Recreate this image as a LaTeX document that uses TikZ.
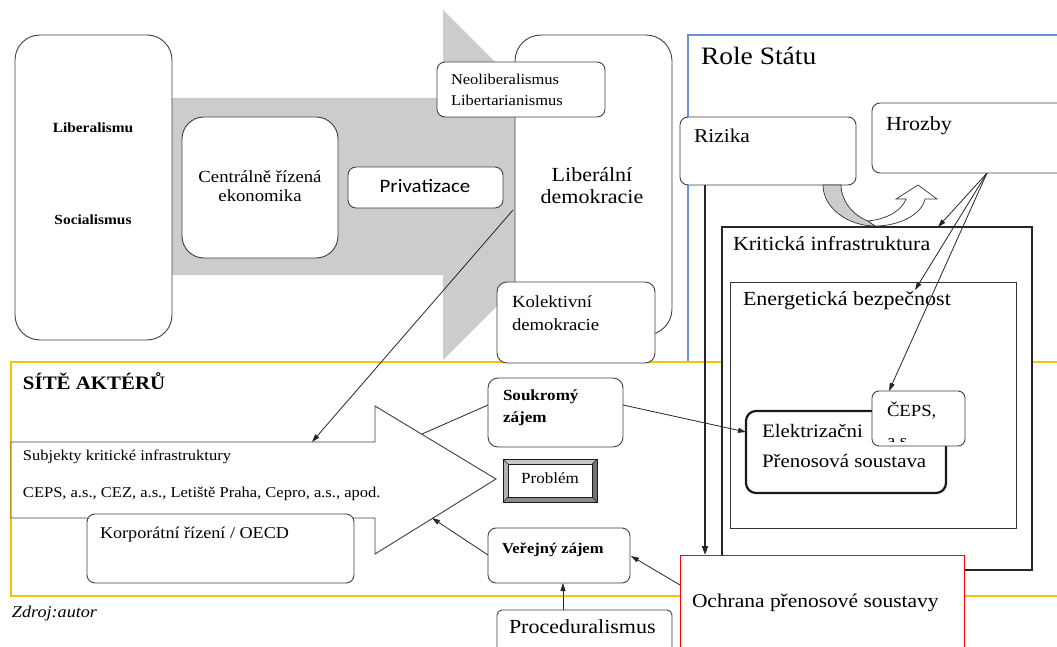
\documentclass[tikz,border=0pt]{standalone}
\usepackage{fontspec}
\setmainfont{Liberation Serif}[FakeStretch=1.1]
\newfontfamily\calfont{Carlito}[FakeStretch=1.1]
\usetikzlibrary{calc,arrows.meta}
\newcommand\fsz[1]{\fontsize{#1}{#1}\selectfont}
\definecolor{boxline}{HTML}{404040}
\definecolor{bluebox}{HTML}{6A93D0}
\definecolor{yellowbox}{HTML}{FFC000}
\definecolor{greyfill}{HTML}{CCCCCC}
\begin{document}
\begin{tikzpicture}[x=1pt,y=-1pt,
  box/.style={draw=boxline, line width=0.9pt, fill=white, rounded corners=8pt, inner sep=0pt, outer sep=0pt, anchor=north west},
  sqbox/.style={inner sep=0pt, outer sep=0pt, anchor=north west},
  lbl/.style={anchor=base west, inner sep=0pt, outer sep=0pt},
  clbl/.style={anchor=base, inner sep=0pt, outer sep=0pt},
  con/.style={draw=black!85, line width=0.8pt},
  arr/.style={con, -{Triangle[length=8pt,width=5pt]}}]
\clip (0,0) rectangle (1057,647);
\fill[white] (0,0) rectangle (1057,647);

% big grey arrow
\fill[greyfill] (160,98) -- (443,98) -- (443,10) -- (618,185) -- (443,360) -- (443,275) -- (160,275) -- cycle;

% left group
\node[box, rounded corners=25pt, minimum width=157pt, minimum height=305pt] (lib) at (15,35) {};
\node[clbl, font=\bfseries\fsz{14}] (tlib) at (93,133) {Liberalismu};
\node[clbl, font=\bfseries\fsz{14}] (tsoc) at (93,225) {Socialismus};

\node[box, rounded corners=22pt, minimum width=156pt, minimum height=141pt] (cent) at (182,117) {};
\node[clbl, font=\fsz{17}] (tcent1) at (260,183) {Centrálně řízená};
\node[clbl, font=\fsz{17}] (tcent2) at (260,201) {ekonomika};

\node[box, minimum width=155pt, minimum height=41pt] (priv) at (348,167) {};
\node[clbl, font=\calfont\fsz{19}] (tpriv) at (425,193) {Privatizace};

\node[box, rounded corners=26pt, minimum width=157pt, minimum height=300pt] (lde) at (515,35) {};
\node[clbl, font=\fsz{20}] (tlde1) at (592,182) {Liberální};
\node[clbl, font=\fsz{20}] (tlde2) at (592,204) {demokracie};

% Role statu
\node[sqbox, draw=bluebox, line width=1.3pt, fill=white, minimum width=420pt, minimum height=327pt] (role) at (688,35) {};
\node[lbl, font=\fsz{25}] (trole) at (701,65) {Role Státu};

% Site akteru
\node[sqbox, draw=yellowbox, line width=1.2pt, fill=white, minimum width=1100pt, minimum height=234pt] (site) at (11,362) {};
\node[lbl, font=\bfseries\fsz{19}] (tsite) at (23,389) {SÍTĚ AKTÉRŮ};

\node[box, rounded corners=10pt, minimum width=158pt, minimum height=81pt] (kol) at (497,282) {};
\node[lbl, font=\fsz{17}] (tkol1) at (512,307) {Kolektivní};
\node[lbl, font=\fsz{17}] (tkol2) at (512,330) {demokracie};

\node[box, minimum width=168pt, minimum height=55pt] (neo) at (437,62) {};
\node[lbl, font=\fsz{15}] (tneo1) at (451,85) {Neoliberalismus};
\node[lbl, font=\fsz{15}] (tneo2) at (451,106) {Libertarianismus};

\node[box, minimum width=176pt, minimum height=68pt] (rizika) at (680,117) {};
\node[lbl, font=\fsz{19.5}] (triz) at (694,143) {Rizika};

\node[box, minimum width=250pt, minimum height=70pt] (hrozby) at (872,103) {};
\node[lbl, font=\fsz{20}] (thro) at (886,131) {Hrozby};

\node[sqbox, draw=black!85, line width=2pt, fill=white, minimum width=310pt, minimum height=343pt] (krit) at (722,227) {};
\node[lbl, font=\fsz{20}] (tkrit) at (733,251) {Kritická infrastruktura};

\node[sqbox, draw=black!80, line width=1pt, fill=white, minimum width=286pt, minimum height=246pt] (ener) at (730,282) {};
\node[lbl, font=\fsz{20}] (tener) at (743,305) {Energetická bezpečnost};

\node[box, draw=black!90, line width=2.2pt, rounded corners=10pt, minimum width=200pt, minimum height=82pt] (elek) at (746,411) {};
\node[lbl, font=\fsz{19}] (telek1) at (762,437) {Elektrizačni};
\node[lbl, font=\fsz{19}] (telek2) at (762,467) {Přenosová soustava};

\node[box, rounded corners=7pt, minimum width=93pt, minimum height=55pt] (ceps) at (872,391) {};
\node[lbl, font=\fsz{17}] (tceps1) at (887,416) {ČEPS,};
\begin{scope}
\clip (872,391) rectangle (965,441);
\node[lbl, font=\fsz{17}] (tceps2) at (887,446) {a.s.};
\end{scope}

% curved arrow
\filldraw[fill=greyfill, draw=black!80, line width=0.7pt] (823,185) .. controls (823,208) and (848,226) .. (875,226) -- (868,221) .. controls (852,215) and (841,200) .. (841,185) -- cycle;
\filldraw[fill=white, draw=black!80, line width=0.7pt] (875,226) .. controls (900,226) and (922,214) .. (925,199) -- (937,199) -- (918,185) -- (896,199) -- (906,199) .. controls (902,210) and (888,219) .. (868,221) -- cycle;

% subjekty arrow
\filldraw[fill=white, draw=black!75, line width=0.9pt] (11,442) -- (375,442) -- (375,406) -- (496,479) -- (375,554) -- (375,518) -- (11,518) -- cycle;
\coordinate (subjtop) at (312,442);
\coordinate (headup) at (422,434);
\coordinate (headlow) at (432,518);
\node[lbl, font=\fsz{15}] (tsub1) at (23,460) {Subjekty kritické infrastruktury};
\node[lbl, font=\fsz{15}] (tsub2) at (23,497) {CEPS, a.s., CEZ, a.s., Letiště Praha, Cepro, a.s., apod.};

\node[box, minimum width=267pt, minimum height=69pt] (korp) at (87,514) {};
\node[lbl, font=\fsz{16.5}] (tkorp) at (100,538) {Korporátní řízení / OECD};

\node[lbl, font=\itshape\fsz{16.5}] (tzdroj) at (12,617) {Zdroj:autor};

\node[box, rounded corners=10pt, minimum width=135pt, minimum height=69pt] (soukr) at (488,378) {};
\node[lbl, font=\bfseries\fsz{15.5}] (tsou1) at (503,400) {Soukromý};
\node[lbl, font=\bfseries\fsz{15.5}] (tsou2) at (503,422) {zájem};

% Problem bevel
\fill[black!45] (503,459) rectangle (597,502);
\fill[black!22] (503,459) -- (597,459) -- (592,464) -- (508,464) -- cycle;
\fill[black!30] (503,459) -- (508,464) -- (508,497) -- (503,502) -- cycle;
\fill[black!55] (597,459) -- (592,464) -- (592,497) -- (597,502) -- cycle;
\draw[black!85, line width=0.6pt] (503,459) -- (508,464) (597,459) -- (592,464) (503,502) -- (508,497) (597,502) -- (592,497);
\draw[black!90, line width=0.9pt] (503,459) rectangle (597,502);
\node[sqbox, draw=black!90, line width=0.8pt, fill=white, minimum width=84pt, minimum height=33pt] (prob) at (508,464) {};
\node[clbl, font=\fsz{15.5}] (tprob) at (550,483) {Problém};

\node[box, minimum width=142pt, minimum height=55pt] (verej) at (488,528) {};
\node[lbl, font=\bfseries\fsz{15}] (tver) at (502,553) {Veřejný zájem};

\node[box, rounded corners=5pt, minimum width=175pt, minimum height=60pt] (proc) at (497,610) {};
\node[lbl, font=\fsz{20}] (tproc) at (509,633) {Proceduralismus};

\node[sqbox, draw=red, line width=1pt, fill=white, minimum width=284pt, minimum height=200pt] (ochr) at (680,555) {};
\node[lbl, font=\fsz{19.5}] (toch) at (692,607) {Ochrana přenosové soustavy};

% connectors
\draw[arr] ($(lde.north west)+(-2,175)$) -- (subjtop);
\draw[con] ($(soukr.north west)+(0,27)$) -- (headup);
\draw[arr] ($(soukr.north east)+(0,27)$) -- ($(elek.north west)+(0,21)$);
\draw[arr] ($(verej.north west)+(0,27)$) -- (headlow);
\draw[arr] ($(proc.north west)+(66,0)$) -- ($(verej.south west)+(75,0)$);
\draw[arr] ($(ochr.north west)+(0,30)$) -- ($(verej.north east)+(1,28)$);
\draw[con, line width=1.8pt, -{Triangle[length=9pt,width=6pt]}] ($(rizika.south west)+(25,0)$) -- ($(ochr.north west)+(25,0)$);
\draw[arr] ($(hrozby.south west)+(115,0)$) -- ($(krit.north west)+(216,0)$);
\draw[arr] ($(hrozby.south west)+(115,0)$) -- ($(ener.north west)+(185,8)$);
\draw[arr] ($(hrozby.south west)+(115,0)$) -- ($(ceps.north west)+(17,0)$);
\end{tikzpicture}
\end{document}
